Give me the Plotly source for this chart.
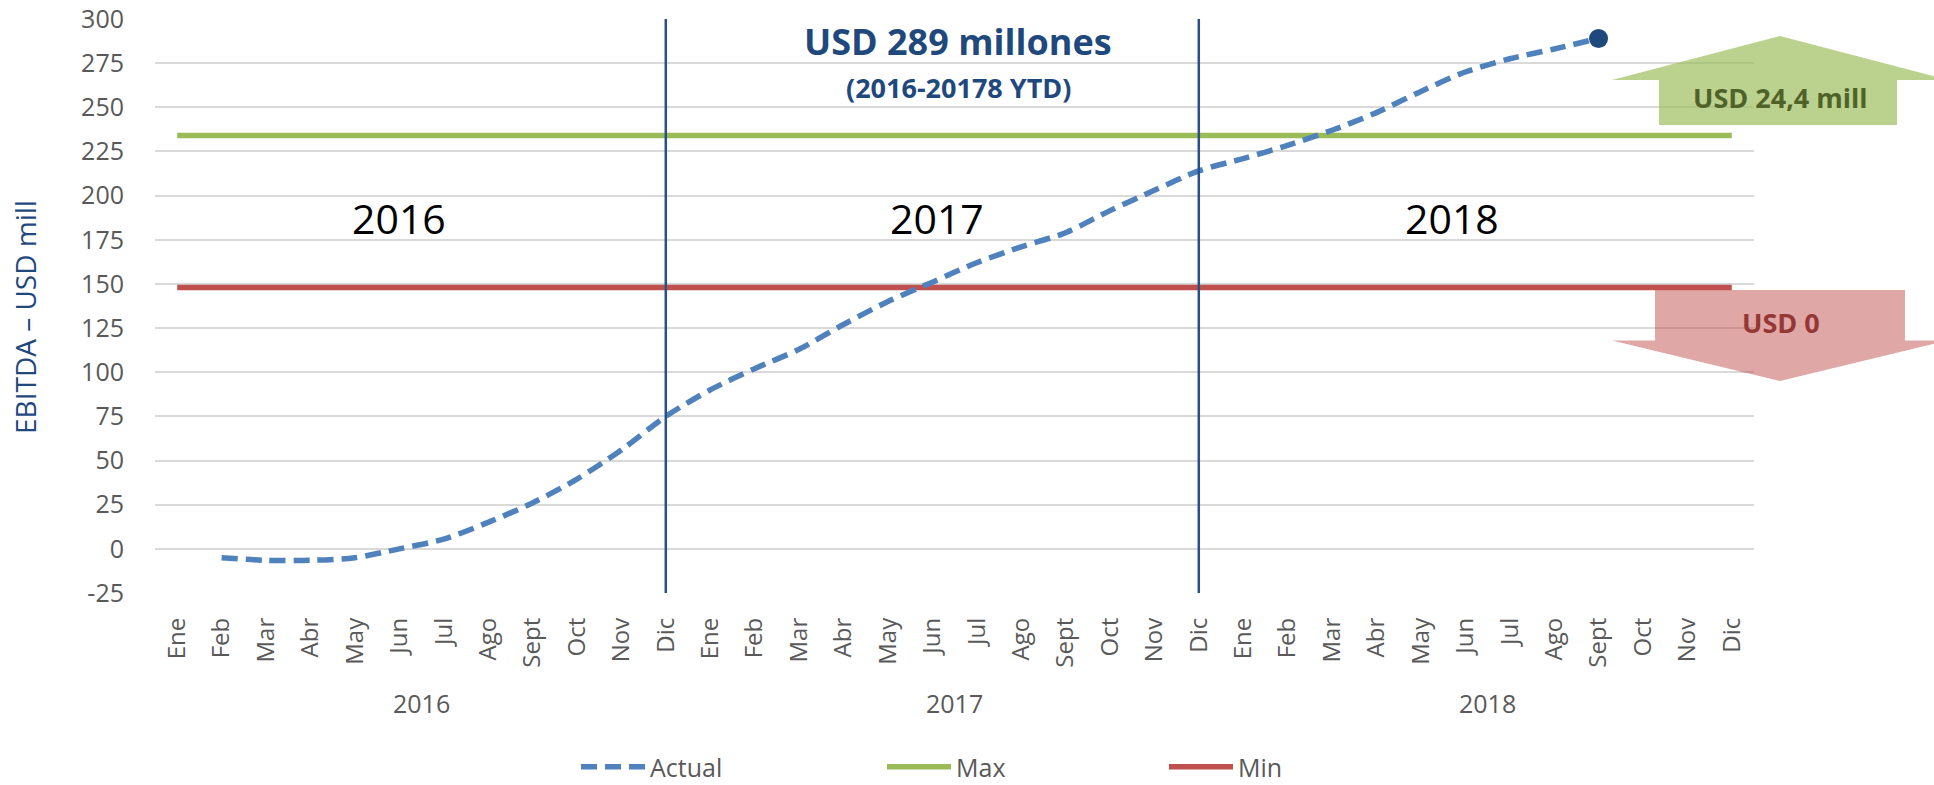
import plotly.graph_objects as go

# ---------------- data ----------------
years = ["2016", "2017", "2018"]
months = ["Ene", "Feb", "Mar", "Abr", "May", "Jun", "Jul", "Ago", "Sept", "Oct", "Nov", "Dic"]

actual_start = ("2016", "Feb")
actual = [-5, -6.5, -6.5, -5, 0, 5.5, 15, 26, 39.5, 56, 75,
          90, 102, 113, 127, 140, 151, 162, 171, 179, 191.5, 203, 214,
          221, 228.5, 237, 247, 259, 270, 277.5, 283, 289]
max_value = 234
min_value = 148
dividers = [("2016", "Dic"), ("2017", "Dic")]
y_ticks = [-25, 0, 25, 50, 75, 100, 125, 150, 175, 200, 225, 250, 275, 300]

title_main = "USD 289 millones"
title_sub = "(2016-20178 YTD)"
up_label = "USD 24,4 mill"
down_label = "USD 0"
y_title = "EBITDA – USD mill"

# ---------------- geometry helpers ----------------
W, H = 1934, 785
L, R, T, B = 155, 180, 19, 192
PW, PH = W - L - R, H - T - B


def px_x(x):
    return (x - L) / PW


def px_y(y):
    return (H - B - y) / PH


periods = [(y, m) for y in years for m in months]
idx = {p: i for i, p in enumerate(periods)}
x_all = list(range(len(periods)))
start = idx[actual_start]
x_actual = x_all[start:start + len(actual)]
tick_text = [m for (_, m) in periods]

FONT = "Open Sans"
GRAY = "#595959"
NAVY = "#1F497D"

fig = go.Figure()

fig.add_trace(go.Scatter(
    x=x_all, y=[max_value] * len(x_all), mode="lines", name="Max",
    line=dict(color="#9BBB59", width=5.5), legend="legend2", hoverinfo="skip"))
fig.add_trace(go.Scatter(
    x=x_all, y=[min_value] * len(x_all), mode="lines", name="Min",
    line=dict(color="#C0504D", width=5.5), legend="legend3", hoverinfo="skip"))
fig.add_trace(go.Scatter(
    x=x_actual, y=actual, mode="lines", name="Actual",
    line=dict(color="#4F81BD", width=5.5, dash="16px,8px", shape="spline", smoothing=0.8),
    legend="legend"))
fig.add_trace(go.Scatter(
    x=[x_actual[-1]], y=[actual[-1]], mode="markers", showlegend=False,
    marker=dict(color=NAVY, size=19)))

shapes = []
for d in dividers:
    shapes.append(dict(type="line", xref="x", yref="paper", x0=idx[d], x1=idx[d], y0=0, y1=1,
                       line=dict(color="#28508A", width=2.5), layer="above"))


def poly(pts):
    return "M " + " L ".join(f"{px_x(a):.5f},{px_y(b):.5f}" for a, b in pts) + " Z"


up_arrow = [(1780, 36), (1948, 80), (1897, 80), (1897, 125), (1659, 125), (1659, 80), (1612, 80)]
down_arrow = [(1655, 290), (1905, 290), (1905, 340.5), (1948, 340.5), (1780, 381),
              (1612, 340.5), (1655, 340.5)]
shapes.append(dict(type="path", xref="paper", yref="paper", path=poly(up_arrow),
                   fillcolor="#9BBB59", opacity=0.68, line=dict(width=0), layer="above"))
shapes.append(dict(type="path", xref="paper", yref="paper", path=poly(down_arrow),
                   fillcolor="#C0504D", opacity=0.5, line=dict(width=0), layer="above"))

C = dict(xanchor="center", yanchor="middle", showarrow=False)
annotations = []
# big year labels in plot
for yr, xc in zip(years, [5.0, 17.1, 28.7]):
    annotations.append(dict(x=xc, y=px_y(218), xref="x", yref="paper", text=yr,
                            font=dict(family=FONT, size=41, color="#000000"), **C))
# year group labels under axis
for yr in years:
    xs = [idx[(yr, m)] for m in months]
    annotations.append(dict(x=sum(xs) / len(xs), y=px_y(703), xref="x", yref="paper", text=yr,
                            font=dict(family=FONT, size=25, color=GRAY), **C))
annotations += [
    dict(x=px_x(958), y=px_y(41), xref="paper", yref="paper", text=f"<b>{title_main}</b>",
         font=dict(family=FONT, size=36, color=NAVY), **C),
    dict(x=px_x(958), y=px_y(87), xref="paper", yref="paper", text=f"<b>{title_sub}</b>",
         font=dict(family=FONT, size=27, color=NAVY), **C),
    dict(x=px_x(1780), y=px_y(98), xref="paper", yref="paper", text=f"<b>{up_label}</b>",
         font=dict(family=FONT, size=27, color="#4F6228"), **C),
    dict(x=px_x(1781), y=px_y(322), xref="paper", yref="paper", text=f"<b>{down_label}</b>",
         font=dict(family=FONT, size=27, color="#953735"), **C),
    dict(x=px_x(25), y=px_y(317), xref="paper", yref="paper", text=y_title, textangle=-90,
         font=dict(family=FONT, size=28, color=NAVY), **C),
]

legend_common = dict(orientation="h", yanchor="middle", xanchor="left", y=px_y(767),
                     font=dict(family=FONT, size=25, color=GRAY), itemwidth=64,
                     bgcolor="rgba(0,0,0,0)")

fig.update_layout(
    width=W, height=H,
    margin=dict(l=L, r=R, t=T, b=B, autoexpand=False),
    paper_bgcolor="white", plot_bgcolor="white",
    font=dict(family=FONT, color=GRAY),
    shapes=shapes, annotations=annotations,
    legend=dict(x=px_x(576), **legend_common),
    legend2=dict(x=px_x(882), **legend_common),
    legend3=dict(x=px_x(1164), **legend_common),
    xaxis=dict(range=[-0.5, len(periods) - 0.5], tickmode="array", tickvals=x_all,
               ticktext=tick_text, tickangle=-90, showgrid=False, showline=False,
               zeroline=False, ticks="", ticklabelstandoff=19, automargin=False,
               tickfont=dict(family=FONT, size=24, color=GRAY)),
    yaxis=dict(range=[y_ticks[0], y_ticks[-1]], tickmode="array", tickvals=y_ticks,
               ticktext=[str(v) for v in y_ticks], showgrid=True,
               gridcolor="#D9D9D9", gridwidth=2, zeroline=False, showline=False, ticks="",
               ticklabelstandoff=30, automargin=False,
               tickfont=dict(family=FONT, size=25, color=GRAY)),
    showlegend=True,
)

fig.write_html("out.html", config={"displayModeBar": False},
               post_script="document.body.style.margin='0';document.body.style.overflow='hidden';")
